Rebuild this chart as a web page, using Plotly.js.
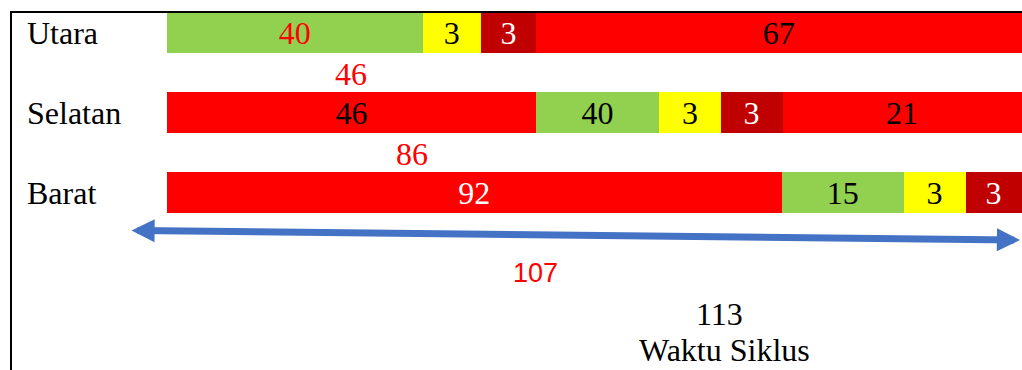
<!DOCTYPE html>
<html>
<head>
<meta charset="utf-8">
<script src="https://cdn.plot.ly/plotly-3.0.1.min.js"></script>
<style>html,body{margin:0;padding:0;background:#fff;}#chart{width:1022px;height:370px;}</style>
</head>
<body>
<div id="chart"></div>
<script>
// ---- data ----
const categories = ['Utara', 'Selatan', 'Barat'];
// phase of each segment, left to right
const utaraPhase   = ['hijau', 'kuning', 'merahSemua', 'merah'];
const selatanPhase = ['merah', 'hijau', 'kuning', 'merahSemua', 'merah'];
const baratPhase   = ['merah', 'hijau', 'kuning', 'merahSemua'];
// segment labels (seconds)
const utaraText   = ['40', '3', '3', '67'];
const selatanText = ['46', '40', '3', '3', '21'];
const baratText   = ['92', '15', '3', '3'];
// drawn segment lengths (schematic, cycle = 113)
const utaraLen   = [33.8, 7.7, 7.3, 64.2];
const selatanLen = [48.8, 16.3, 8.1, 8.2, 31.6];
const baratLen   = [81.3, 16.1, 8.2, 7.4];
// marker texts
const markerLabels = ['46', '86', '107'];
const cycleValue = '113';
const cycleTitle = 'Waktu Siklus';

// ---- styles ----
const phaseColor = {hijau: '#92D050', kuning: '#FFFF00', merahSemua: '#C00000', merah: '#FF0000'};
const utaraTextColor   = ['#FF0000', '#000000', '#FFFFFF', '#000000'];
const selatanTextColor = ['#000000', '#000000', '#000000', '#FFFFFF', '#000000'];
const baratTextColor   = ['#FFFFFF', '#000000', '#000000', '#FFFFFF'];
const SERIF = '"Liberation Serif", serif';
const SANS = '"Liberation Sans", sans-serif';
const W = 1022, H = 370;
const px = v => v / W;
const py = v => 1 - v / H;

const rows = [
  {len: utaraLen, phase: utaraPhase, text: utaraText, tc: utaraTextColor},
  {len: selatanLen, phase: selatanPhase, text: selatanText, tc: selatanTextColor},
  {len: baratLen, phase: baratPhase, text: baratText, tc: baratTextColor}
];
const nSeg = Math.max(...rows.map(r => r.len.length));
const traces = [];
for (let i = 0; i < nSeg; i++) {
  traces.push({
    type: 'bar',
    orientation: 'h',
    y: categories,
    x: rows.map(r => r.len[i] || 0),
    width: 0.51,
    marker: {color: rows.map(r => phaseColor[r.phase[i]] || '#FFFFFF'), line: {width: 0}},
    text: rows.map(r => r.text[i] || ''),
    textposition: 'inside',
    insidetextanchor: 'middle',
    textangle: 0,
    constraintext: 'none',
    textfont: {family: SERIF, size: 32, color: rows.map(r => r.tc[i] || '#000')},
    hoverinfo: 'skip',
    showlegend: false,
    cliponaxis: false
  });
}

const annotations = [];
categories.forEach(c => annotations.push({
  xref: 'paper', x: px(25), xanchor: 'left', yref: 'y', y: c, yanchor: 'middle',
  text: c, showarrow: false, font: {family: SERIF, size: 32, color: '#000'}
}));
// floating markers
annotations.push({xref: 'x', x: selatanLen[0] / 2, yref: 'y', y: 0.51, text: markerLabels[0],
  showarrow: false, font: {family: SERIF, size: 32, color: '#FF0000'}});
annotations.push({xref: 'x', x: 32.4, yref: 'y', y: 1.51, text: markerLabels[1],
  showarrow: false, font: {family: SERIF, size: 32, color: '#FF0000'}});
annotations.push({xref: 'x', x: utaraLen[0] + utaraLen[1] + utaraLen[2], yref: 'y', y: 3.0, text: markerLabels[2],
  showarrow: false, font: {family: SANS, size: 27, color: '#FF0000'}});
annotations.push({xref: 'x', x: 73.1, yref: 'y', y: 3.51, text: cycleValue,
  showarrow: false, font: {family: SERIF, size: 32, color: '#000'}});
annotations.push({xref: 'x', x: 73.7, yref: 'y', y: 3.97, text: cycleTitle,
  showarrow: false, font: {family: SERIF, size: 32, color: '#000'}});
// double-headed cycle arrow
annotations.push({
  xref: 'paper', yref: 'paper', x: px(1020), y: py(240),
  ax: 130 - 1020, ay: 230.5 - 240, axref: 'pixel', ayref: 'pixel',
  text: '', showarrow: true, arrowside: 'end+start',
  arrowhead: 2, startarrowhead: 2, arrowsize: 0.66, startarrowsize: 0.66,
  arrowwidth: 7, arrowcolor: '#4472C4', standoff: 0, startstandoff: 0
});

const UPP = 113 / 855; // axis units per pixel
const layout = {
  width: W, height: H,
  margin: {l: 0, r: 0, t: 0, b: 0, pad: 0},
  paper_bgcolor: '#FFFFFF', plot_bgcolor: '#FFFFFF',
  barmode: 'stack',
  bargap: 0,
  uniformtext: {mode: false},
  xaxis: {range: [-167 * UPP, 113 + 0.5 * UPP], visible: false, fixedrange: true},
  yaxis: {type: 'category', categoryarray: categories, range: [(H - 32.8) / 80, -32.8 / 80],
          visible: false, fixedrange: true},
  showlegend: false,
  annotations: annotations,
  shapes: [
    {type: 'line', xref: 'paper', yref: 'paper', x0: px(10), x1: 1, y0: py(12), y1: py(12),
     line: {color: '#000', width: 2}, layer: 'above'},
    {type: 'line', xref: 'paper', yref: 'paper', x0: px(11), x1: px(11), y0: py(11), y1: 0,
     line: {color: '#000', width: 2}, layer: 'above'}
  ]
};
Plotly.newPlot('chart', traces, layout, {displayModeBar: false, staticPlot: true});
</script>
</body>
</html>
